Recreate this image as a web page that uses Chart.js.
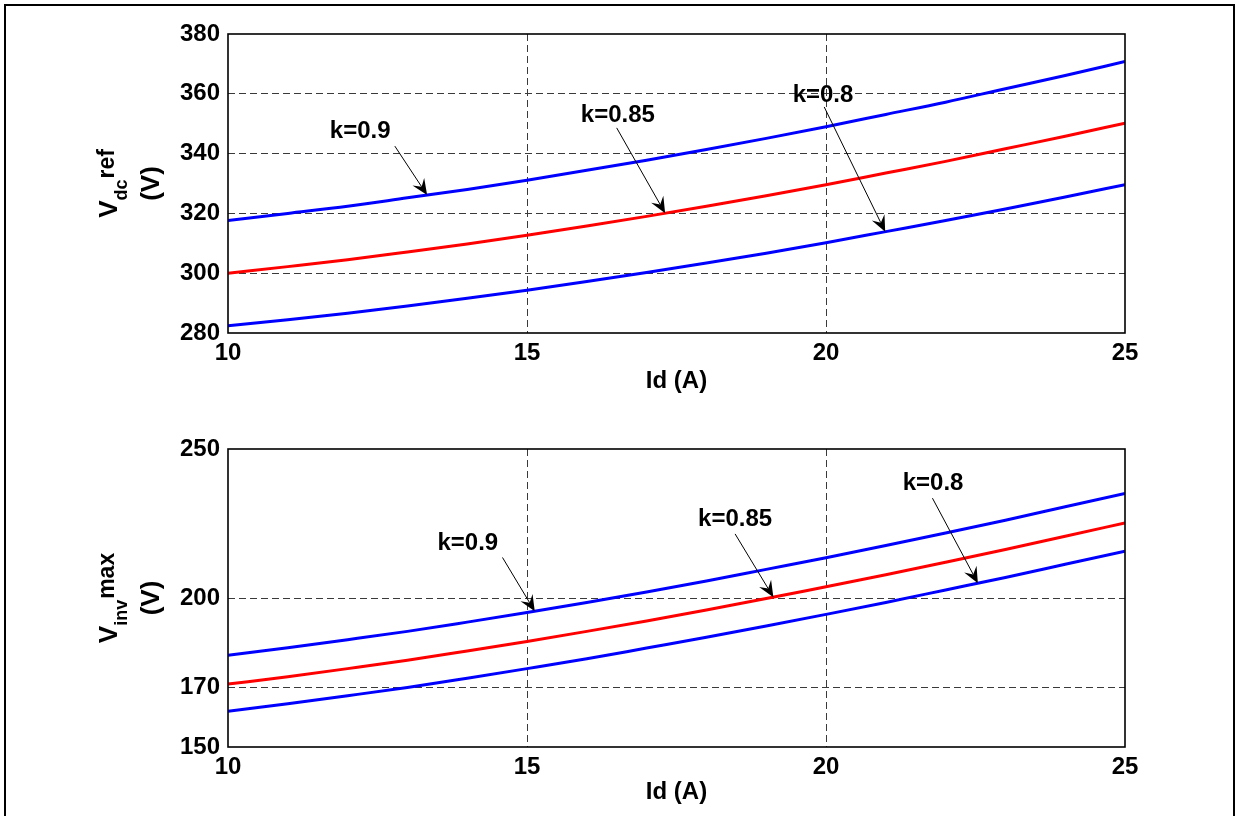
<!DOCTYPE html>
<html>
<head>
<meta charset="utf-8">
<title>Vdc ref and Vinv max versus Id</title>
<script src="https://cdn.jsdelivr.net/npm/chart.js@4.4.1/dist/chart.umd.min.js"></script>
<style>
  html, body { margin: 0; padding: 0; background: #fff; }
  body { width: 1239px; height: 816px; position: relative; overflow: hidden; }
  #frame { position: absolute; left: 4px; top: 4px; width: 1227px; height: 840px; border: 2px solid #000; }
  .panel { position: absolute; left: 0; width: 1239px; height: 408px; }
  #panelTop { top: 0; }
  #panelBottom { top: 408px; }
</style>
</head>
<body>
<div id="frame"></div>
<div class="panel" id="panelTop"><canvas id="vdcChart"></canvas></div>
<div class="panel" id="panelBottom"><canvas id="vinvChart"></canvas></div>
<script>
// DC current Id (A)
const idAmps = [10, 11, 12, 13, 14, 15, 16, 17, 18, 19, 20, 21, 22, 23, 24, 25];

// Reference DC-link voltage Vdc_ref (V) for each modulation factor k
const vdcK090 = [317.6, 320.0, 322.4, 325.2, 328.0, 331.1, 334.4, 337.8, 341.4, 345.1, 349.0, 353.1, 357.2, 361.7, 366.1, 370.8];
const vdcK085 = [300.0, 302.2, 304.5, 307.1, 309.8, 312.7, 315.8, 319.0, 322.4, 325.9, 329.6, 333.5, 337.4, 341.6, 345.8, 350.2];
const vdcK080 = [282.4, 284.4, 286.6, 289.0, 291.6, 294.3, 297.2, 300.2, 303.4, 306.7, 310.2, 313.9, 317.6, 321.5, 325.5, 329.6];

// Maximum inverter voltage Vinv_max (V) for each modulation factor k
const vinvK090 = [180.8, 183.3, 186.0, 188.8, 191.9, 195.1, 198.5, 202.0, 205.7, 209.6, 213.5, 217.6, 221.8, 226.1, 230.6, 235.1];
const vinvK085 = [171.1, 173.6, 176.3, 179.1, 182.2, 185.4, 188.8, 192.3, 196.0, 199.8, 203.8, 207.8, 212.0, 216.3, 220.7, 225.2];
const vinvK080 = [162.0, 164.5, 167.2, 170.0, 173.1, 176.3, 179.6, 183.2, 186.8, 190.6, 194.5, 198.5, 202.7, 206.9, 211.3, 215.7];

// Series labels and tick labels
const seriesLabels = ['k=0.9', 'k=0.85', 'k=0.8'];
const idTicks = [10, 15, 20, 25];
const vdcTicks = [280, 300, 320, 340, 360, 380];
const vinvTicks = [150, 170, 200, 250];

const FONT_FAMILY = '"Liberation Sans", Arial, Helvetica, sans-serif';
const SERIES_COLORS = ['#0000ff', '#ff0000', '#0000ff'];

function toPoints(ys) {
  return idAmps.map((x, i) => ({ x: x, y: ys[i] }));
}

function makeDatasets(seriesList) {
  return seriesList.map((ys, i) => ({
    label: seriesLabels[i],
    data: toPoints(ys),
    borderColor: SERIES_COLORS[i],
    borderWidth: 3,
    pointRadius: 0,
    fill: false,
    cubicInterpolationMode: 'monotone'
  }));
}

// y value of a dataset at a given Id, linearly interpolated between samples
function seriesValueAt(ds, xv) {
  const pts = ds.data;
  for (let i = 0; i < pts.length - 1; i++) {
    if (xv >= pts[i].x && xv <= pts[i + 1].x) {
      const t = (xv - pts[i].x) / (pts[i + 1].x - pts[i].x);
      return pts[i].y + t * (pts[i + 1].y - pts[i].y);
    }
  }
  return pts[pts.length - 1].y;
}

// Plot frame: full box around the chart area
const plotBox = {
  id: 'plotBox',
  afterDatasetsDraw(chart) {
    const a = chart.chartArea;
    const ctx = chart.ctx;
    ctx.save();
    ctx.strokeStyle = '#000';
    ctx.lineWidth = 1.6;
    ctx.setLineDash([]);
    ctx.strokeRect(a.left, a.top, a.right - a.left, a.bottom - a.top);
    ctx.restore();
  }
};

// "k=..." callouts with an arrow pointing onto the matching curve
const kCallouts = {
  id: 'kCallouts',
  afterDatasetsDraw(chart, args, opts) {
    const ctx = chart.ctx;
    const xs = chart.scales.x, ys = chart.scales.y;
    (opts.items || []).forEach(item => {
      const ds = chart.data.datasets[item.series];
      const tx = xs.getPixelForValue(item.text[0]);
      const ty = ys.getPixelForValue(item.text[1]);
      const sx = xs.getPixelForValue(item.from[0]);
      const sy = ys.getPixelForValue(item.from[1]);
      const ex = xs.getPixelForValue(item.tipX);
      const ey = ys.getPixelForValue(seriesValueAt(ds, item.tipX));

      ctx.save();
      ctx.fillStyle = '#000';
      ctx.font = 'bold 24px ' + FONT_FAMILY;
      ctx.textAlign = 'center';
      ctx.textBaseline = 'middle';
      ctx.fillText(ds.label, tx, ty);

      const ang = Math.atan2(ey - sy, ex - sx);
      const len = 16, half = 7, notch = 10;
      const bx = ex - len * Math.cos(ang), by = ey - len * Math.sin(ang);
      const nx = ex - notch * Math.cos(ang), ny = ey - notch * Math.sin(ang);
      const px = -Math.sin(ang), py = Math.cos(ang);

      ctx.strokeStyle = '#000';
      ctx.lineWidth = 1;
      ctx.beginPath();
      ctx.moveTo(sx, sy);
      ctx.lineTo(nx, ny);
      ctx.stroke();

      ctx.beginPath();
      ctx.moveTo(ex, ey);
      ctx.lineTo(bx + px * half, by + py * half);
      ctx.lineTo(nx, ny);
      ctx.lineTo(bx - px * half, by - py * half);
      ctx.closePath();
      ctx.fill();
      ctx.restore();
    });
  }
};

// Vertical axis title: V with subscript and superscript, plus unit line
const yAxisTitle = {
  id: 'yAxisTitle',
  afterDraw(chart, args, opts) {
    const ctx = chart.ctx;
    const a = chart.chartArea;
    const cy = (a.top + a.bottom) / 2;
    const mainFont = 'bold 26px ' + FONT_FAMILY;
    const subFont = 'bold 18px ' + FONT_FAMILY;
    const supFont = 'bold 23px ' + FONT_FAMILY;

    ctx.save();
    ctx.fillStyle = '#000';
    ctx.font = mainFont; const wMain = ctx.measureText('V').width;
    ctx.font = subFont; const wSub = ctx.measureText(opts.sub).width;
    ctx.font = supFont; const wSup = ctx.measureText(opts.sup).width;
    const total = wMain + wSub + 1 + wSup;

    ctx.translate(opts.baselineX, cy);
    ctx.rotate(-Math.PI / 2);
    ctx.textAlign = 'left';
    ctx.textBaseline = 'alphabetic';
    let x = -total / 2;
    ctx.font = mainFont; ctx.fillText('V', x, 0); x += wMain;
    ctx.font = subFont; ctx.fillText(opts.sub, x, 10); x += wSub + 1;
    ctx.font = supFont; ctx.fillText(opts.sup, x, -3);
    ctx.restore();

    ctx.save();
    ctx.fillStyle = '#000';
    ctx.translate(opts.unitX, cy);
    ctx.rotate(-Math.PI / 2);
    ctx.font = 'bold 26px ' + FONT_FAMILY;
    ctx.textAlign = 'center';
    ctx.textBaseline = 'middle';
    ctx.fillText('(V)', 0, 0);
    ctx.restore();
  }
};

function gridColor(min, max) {
  return ctx => {
    if (!ctx.tick) return 'rgba(0,0,0,0)';
    const v = ctx.tick.value;
    return (v === min || v === max) ? 'rgba(0,0,0,0)' : '#3a3a3a';
  };
}

function makeConfig(seriesList, yMin, yMax, yTicks, padTop, padBottom, xAxisHeight, titleOpts, callouts) {
  const tickFont = { family: FONT_FAMILY, size: 24, weight: 'bold' };
  return {
    type: 'line',
    data: { datasets: makeDatasets(seriesList) },
    plugins: [plotBox, kCallouts, yAxisTitle],
    options: {
      responsive: true,
      maintainAspectRatio: false,
      animation: false,
      layout: { padding: { left: 148, right: 114, top: padTop, bottom: padBottom } },
      plugins: {
        legend: { display: false },
        tooltip: { enabled: false },
        kCallouts: { items: callouts },
        yAxisTitle: titleOpts
      },
      scales: {
        x: {
          type: 'linear',
          min: 10,
          max: 25,
          afterBuildTicks: s => { s.ticks = idTicks.map(v => ({ value: v })); },
          afterFit: s => { s.height = xAxisHeight; },
          ticks: { color: '#000', font: tickFont, padding: 6, maxRotation: 0, autoSkip: false },
          grid: { color: gridColor(10, 25), lineWidth: 1, drawTicks: false },
          border: { display: false, dash: [7, 4] },
          title: { display: true, text: 'Id (A)', color: '#000', font: tickFont, padding: { top: 0, bottom: 0 } }
        },
        y: {
          type: 'linear',
          min: yMin,
          max: yMax,
          afterBuildTicks: s => { s.ticks = yTicks.map(v => ({ value: v })); },
          afterFit: s => { s.width = 80; },
          ticks: { color: '#000', font: tickFont, padding: 8, autoSkip: false },
          grid: { color: gridColor(yMin, yMax), lineWidth: 1, drawTicks: false },
          border: { display: false, dash: [7, 4] }
        }
      }
    }
  };
}

new Chart(document.getElementById('vdcChart'), makeConfig(
  [vdcK090, vdcK085, vdcK080], 280, 380, vdcTicks, 34, 12, 63,
  { sub: 'dc', sup: 'ref', baselineX: 117, unitX: 152 },
  [
    { series: 0, text: [12.21, 347.3], from: [12.79, 342.5], tipX: 13.33 },
    { series: 1, text: [16.52, 352.9], from: [16.50, 348.6], tipX: 17.31 },
    { series: 2, text: [19.95, 359.6], from: [19.97, 355.6], tipX: 20.99 }
  ]
));

new Chart(document.getElementById('vinvChart'), makeConfig(
  [vinvK090, vinvK085, vinvK080], 150, 250, vinvTicks, 41, 9, 60,
  { sub: 'inv', sup: 'max', baselineX: 117, unitX: 152 },
  [
    { series: 0, text: [14.01, 218.4], from: [14.59, 213.6], tipX: 15.13 },
    { series: 1, text: [18.48, 226.3], from: [18.48, 221.5], tipX: 19.12 },
    { series: 2, text: [21.79, 238.6], from: [21.78, 233.5], tipX: 22.54 }
  ]
));
</script>
</body>
</html>
